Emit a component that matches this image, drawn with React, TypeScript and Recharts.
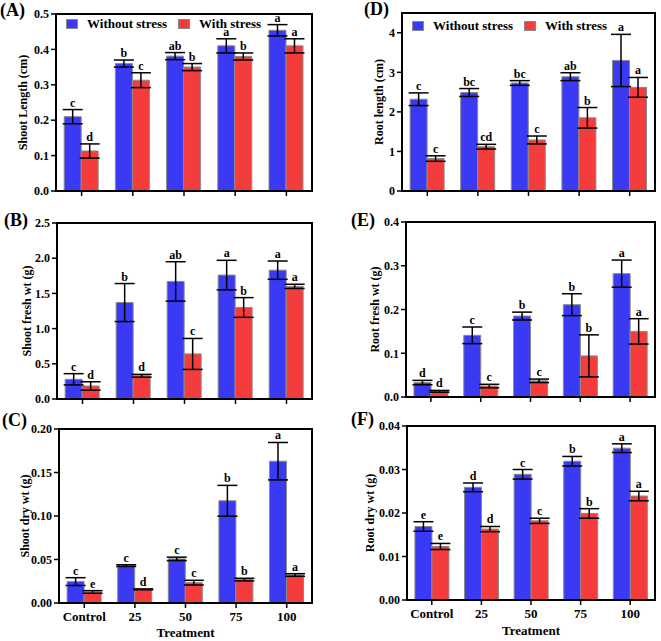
import React from 'react';
import { BarChart, Bar, XAxis, YAxis, ErrorBar, LabelList, ReferenceArea, Legend } from 'recharts';

const SERIF = '"Liberation Serif", "Times New Roman", Times, serif';
const BLUE = '#3a3af4';
const RED = '#f43c3c';

const categories = ['Control', '25', '50', '75', '100'];
const seriesNames = ['Without stress', 'With stress'];

// (A) Shoot length (cm)
const shootLenWithout = [0.21, 0.36, 0.381, 0.41, 0.454];
const shootLenWithoutErr = [0.02, 0.01, 0.01, 0.02, 0.016];
const shootLenWithoutSig = ['c', 'b', 'ab', 'a', 'a'];
const shootLenWith = [0.113, 0.313, 0.35, 0.38, 0.41];
const shootLenWithErr = [0.02, 0.021, 0.01, 0.01, 0.02];
const shootLenWithSig = ['d', 'c', 'b', 'b', 'a'];
const shootLenTicks = [0, 0.1, 0.2, 0.3, 0.4, 0.5];

// (B) Shoot fresh wt (g)
const shootFreshWithout = [0.28, 1.37, 1.67, 1.76, 1.83];
const shootFreshWithoutErr = [0.08, 0.27, 0.28, 0.21, 0.13];
const shootFreshWithoutSig = ['c', 'b', 'ab', 'a', 'a'];
const shootFreshWith = [0.185, 0.33, 0.64, 1.3, 1.6];
const shootFreshWithErr = [0.06, 0.02, 0.22, 0.14, 0.03];
const shootFreshWithSig = ['d', 'd', 'c', 'b', 'a'];
const shootFreshTicks = [0, 0.5, 1.0, 1.5, 2.0, 2.5];

// (C) Shoot dry wt (g)
const shootDryWithout = [0.0246, 0.043, 0.0507, 0.1175, 0.163];
const shootDryWithoutErr = [0.0045, 0.001, 0.002, 0.0177, 0.0215];
const shootDryWithoutSig = ['c', 'c', 'c', 'b', 'a'];
const shootDryWith = [0.0127, 0.0157, 0.0234, 0.0269, 0.0322];
const shootDryWithErr = [0.0015, 0.0005, 0.0027, 0.0015, 0.0015];
const shootDryWithSig = ['e', 'd', 'c', 'b', 'a'];
const shootDryTicks = [0, 0.05, 0.1, 0.15, 0.2];

// (D) Root length (cm)
const rootLenWithout = [2.32, 2.49, 2.73, 2.89, 3.3];
const rootLenWithoutErr = [0.16, 0.1, 0.06, 0.1, 0.66];
const rootLenWithoutSig = ['c', 'bc', 'bc', 'ab', 'a'];
const rootLenWith = [0.82, 1.12, 1.29, 1.85, 2.62];
const rootLenWithErr = [0.07, 0.06, 0.1, 0.26, 0.25];
const rootLenWithSig = ['c', 'cd', 'c', 'b', 'a'];
const rootLenTicks = [0, 1, 2, 3, 4];

// (E) Root fresh wt (g)
const rootFreshWithout = [0.033, 0.141, 0.185, 0.211, 0.282];
const rootFreshWithoutErr = [0.005, 0.019, 0.009, 0.025, 0.031];
const rootFreshWithoutSig = ['d', 'c', 'b', 'b', 'a'];
const rootFreshWith = [0.013, 0.025, 0.037, 0.094, 0.15];
const rootFreshWithErr = [0.002, 0.004, 0.004, 0.048, 0.029];
const rootFreshWithSig = ['d', 'c', 'c', 'b', 'a'];
const rootFreshTicks = [0, 0.1, 0.2, 0.3, 0.4];

// (F) Root dry wt (g)
const rootDryWithout = [0.0169, 0.0259, 0.0289, 0.0319, 0.0349];
const rootDryWithoutErr = [0.0011, 0.001, 0.0011, 0.0011, 0.001];
const rootDryWithoutSig = ['e', 'd', 'c', 'b', 'a'];
const rootDryWith = [0.0123, 0.0163, 0.0182, 0.0199, 0.0239];
const rootDryWithErr = [0.0007, 0.0006, 0.0006, 0.0011, 0.0011];
const rootDryWithSig = ['e', 'd', 'c', 'b', 'a'];
const rootDryTicks = [0, 0.01, 0.02, 0.03, 0.04];

type Rect = { left: number; top: number; width: number; height: number };
type Plot = { left: number; top: number; right: number; bottom: number };

type PanelCfg = {
  tag: string;
  tagX: number;
  tagY: number;
  yLabel: string;
  yLabelX: number;
  chart: Rect;
  plot: Plot;
  max: number;
  ticks: number[];
  digits: number;
  w: number[];
  we: number[];
  ws: string[];
  s: number[];
  se: number[];
  ss: string[];
  legend?: { left: number; top: number };
  showX?: boolean;
  xTitleY?: number;
};

const panels: PanelCfg[] = [
  {
    tag: '(A)', tagX: 0, tagY: 16, yLabel: 'Shoot Length (cm)', yLabelX: 23,
    chart: { left: 0, top: 0, width: 322, height: 205 },
    plot: { left: 56, top: 14, right: 312, bottom: 191 },
    max: 0.5, ticks: shootLenTicks, digits: 1,
    w: shootLenWithout, we: shootLenWithoutErr, ws: shootLenWithoutSig,
    s: shootLenWith, se: shootLenWithErr, ss: shootLenWithSig,
    legend: { left: 66, top: 17 },
  },
  {
    tag: '(B)', tagX: 4, tagY: 226, yLabel: 'Shoot fresh wt (g)', yLabelX: 27,
    chart: { left: 0, top: 212, width: 322, height: 199 },
    plot: { left: 57, top: 223, right: 312, bottom: 399 },
    max: 2.5, ticks: shootFreshTicks, digits: 1,
    w: shootFreshWithout, we: shootFreshWithoutErr, ws: shootFreshWithoutSig,
    s: shootFreshWith, se: shootFreshWithErr, ss: shootFreshWithSig,
  },
  {
    tag: '(C)', tagX: 2, tagY: 426, yLabel: 'Shoot dry wt (g)', yLabelX: 25,
    chart: { left: 0, top: 418, width: 322, height: 223 },
    plot: { left: 59, top: 429, right: 312, bottom: 603 },
    max: 0.2, ticks: shootDryTicks, digits: 2,
    w: shootDryWithout, we: shootDryWithoutErr, ws: shootDryWithoutSig,
    s: shootDryWith, se: shootDryWithErr, ss: shootDryWithSig,
    showX: true, xTitleY: 637,
  },
  {
    tag: '(D)', tagX: 364, tagY: 15, yLabel: 'Root length (cm)', yLabelX: 379,
    chart: { left: 330, top: 0, width: 331, height: 205 },
    plot: { left: 402, top: 13, right: 655, bottom: 191 },
    max: 4.5, ticks: rootLenTicks, digits: 0,
    w: rootLenWithout, we: rootLenWithoutErr, ws: rootLenWithoutSig,
    s: rootLenWith, se: rootLenWithErr, ss: rootLenWithSig,
    legend: { left: 82, top: 19 },
  },
  {
    tag: '(E)', tagX: 351, tagY: 226, yLabel: 'Root fresh wt (g)', yLabelX: 375,
    chart: { left: 330, top: 212, width: 331, height: 197 },
    plot: { left: 406, top: 222, right: 655, bottom: 397 },
    max: 0.4, ticks: rootFreshTicks, digits: 1,
    w: rootFreshWithout, we: rootFreshWithoutErr, ws: rootFreshWithoutSig,
    s: rootFreshWith, se: rootFreshWithErr, ss: rootFreshWithSig,
  },
  {
    tag: '(F)', tagX: 351, tagY: 425, yLabel: 'Root dry wt (g)', yLabelX: 370,
    chart: { left: 330, top: 416, width: 331, height: 225 },
    plot: { left: 407, top: 426, right: 655, bottom: 600 },
    max: 0.04, ticks: rootDryTicks, digits: 2,
    w: rootDryWithout, we: rootDryWithoutErr, ws: rootDryWithoutSig,
    s: rootDryWith, se: rootDryWithErr, ss: rootDryWithSig,
    showX: true, xTitleY: 635,
  },
];

const makeLetter = (values: number[], errs: number[], sigs: string[]) => (p: any) => {
  const i = p.index;
  if (i == null) return null;
  const v = values[i];
  const h = Number(p.height);
  if (!v || !h) return null;
  const pxPerUnit = h / v;
  const top = Number(p.y) - errs[i] * pxPerUnit;
  return (
    <text
      key={`lbl-${i}`}
      x={Number(p.x) + Number(p.width) / 2}
      y={top - 3}
      textAnchor="middle"
      fontFamily={SERIF}
      fontWeight="bold"
      fontSize={12}
      fill="#000"
    >
      {sigs[i]}
    </text>
  );
};

function AxisTitle({ tx, ty, rot, txt }: { tx: number; ty: number; rot?: boolean; txt: string }) {
  return (
    <text
      x={tx}
      y={ty}
      transform={rot ? `rotate(-90, ${tx}, ${ty})` : undefined}
      textAnchor="middle"
      dominantBaseline={rot ? 'central' : 'auto'}
      fontFamily={SERIF}
      fontWeight="bold"
      fontSize={rot ? 12 : 13}
      fill="#000"
    >
      {txt}
    </text>
  );
}

const LegendContent = (props: any) => {
  const payload = [...(props.payload || [])].sort(
    (a: any, b: any) => seriesNames.indexOf(a.value) - seriesNames.indexOf(b.value)
  );
  return (
    <div style={{ display: 'flex', alignItems: 'center', fontFamily: SERIF, fontWeight: 'bold', fontSize: 13, whiteSpace: 'nowrap' }}>
      {payload.map((e: any, i: number) => (
        <div key={i} style={{ display: 'flex', alignItems: 'center', marginRight: 11 }}>
          <span style={{ display: 'inline-block', width: 12, height: 10, background: e.color, border: '1px solid #8a8a8a', boxSizing: 'border-box', marginRight: 9 }} />
          <span style={{ color: '#000', lineHeight: '13px' }}>{e.value}</span>
        </div>
      ))}
    </div>
  );
};

function Panel({ cfg }: { cfg: PanelCfg }) {
  const { chart, plot } = cfg;
  const data = categories.map((c, i) => ({ cat: c, w: cfg.w[i], we: cfg.we[i], s: cfg.s[i], se: cfg.se[i], ws: cfg.ws[i], ss: cfg.ss[i] }));
  const margin = { top: plot.top - chart.top, right: chart.left + chart.width - plot.right, bottom: 0, left: 0 };
  const yW = plot.left - chart.left;
  const xH = chart.top + chart.height - plot.bottom;
  const fmt = (v: number) => v.toFixed(cfg.digits);
  const yMid = (plot.top + plot.bottom) / 2 - chart.top;
  const yLx = cfg.yLabelX - chart.left;
  const xMid = (plot.left + plot.right) / 2 - chart.left;
  return (
    <div style={{ position: 'absolute', left: chart.left, top: chart.top }}>
      <BarChart width={chart.width} height={chart.height} data={data} margin={margin} barCategoryGap="16%" barGap={0}>
        <XAxis
          dataKey="cat"
          height={xH}
          tickSize={5}
          tickMargin={4}
          interval={0}
          tickLine={{ stroke: '#000', strokeWidth: 1.5 }}
          axisLine={{ stroke: '#000', strokeWidth: 2 }}
          tick={{ fill: '#000', fontSize: 13, fontWeight: 'bold', fontFamily: SERIF }}
          tickFormatter={cfg.showX ? undefined : () => ''}
          label={cfg.showX ? <AxisTitle tx={xMid} ty={(cfg.xTitleY || 0) - chart.top} txt="Treatment" /> : undefined}
        />
        <YAxis
          width={yW}
          domain={[0, cfg.max]}
          ticks={cfg.ticks}
          interval={0}
          allowDataOverflow
          tickFormatter={fmt}
          tickSize={5}
          tickMargin={2}
          tickLine={{ stroke: '#000', strokeWidth: 1.5 }}
          axisLine={{ stroke: '#000', strokeWidth: 2 }}
          tick={{ fill: '#000', fontSize: 12, fontWeight: 'bold', fontFamily: SERIF }}
          label={<AxisTitle tx={yLx} ty={yMid} rot txt={cfg.yLabel} />}
        />
        <ReferenceArea y1={0} y2={cfg.max} fill="none" stroke="#000" strokeWidth={2} ifOverflow="visible" />
        {cfg.legend ? (
          <Legend
            layout="vertical"
            align="center"
            verticalAlign="middle"
            content={<LegendContent />}
            wrapperStyle={{ position: 'absolute', left: cfg.legend.left, top: cfg.legend.top, width: 'auto' }}
          />
        ) : null}
        <Bar dataKey="w" name={seriesNames[0]} fill={BLUE} stroke="#8a8a8a" strokeWidth={1} isAnimationActive={false}>
          <ErrorBar dataKey="we" width={10} strokeWidth={1.5} stroke="#000" />
          <LabelList dataKey="ws" content={makeLetter(cfg.w, cfg.we, cfg.ws)} />
        </Bar>
        <Bar dataKey="s" name={seriesNames[1]} fill={RED} stroke="#8a8a8a" strokeWidth={1} isAnimationActive={false}>
          <ErrorBar dataKey="se" width={10} strokeWidth={1.5} stroke="#000" />
          <LabelList dataKey="ss" content={makeLetter(cfg.s, cfg.se, cfg.ss)} />
        </Bar>
      </BarChart>
    </div>
  );
}

export default function App() {
  return (
    <div style={{ position: 'absolute', left: 0, top: 0, width: 661, height: 641, background: '#fff', overflow: 'hidden' }}>
      {panels.map((p) => (
        <Panel key={p.tag} cfg={p} />
      ))}
      <svg width={661} height={641} style={{ position: 'absolute', left: 0, top: 0, pointerEvents: 'none' }}>
        {panels.map((p) => (
          <text key={p.tag} x={p.tagX} y={p.tagY} fontFamily={SERIF} fontWeight="bold" fontSize={18} fill="#000">{p.tag}</text>
        ))}
      </svg>
    </div>
  );
}
